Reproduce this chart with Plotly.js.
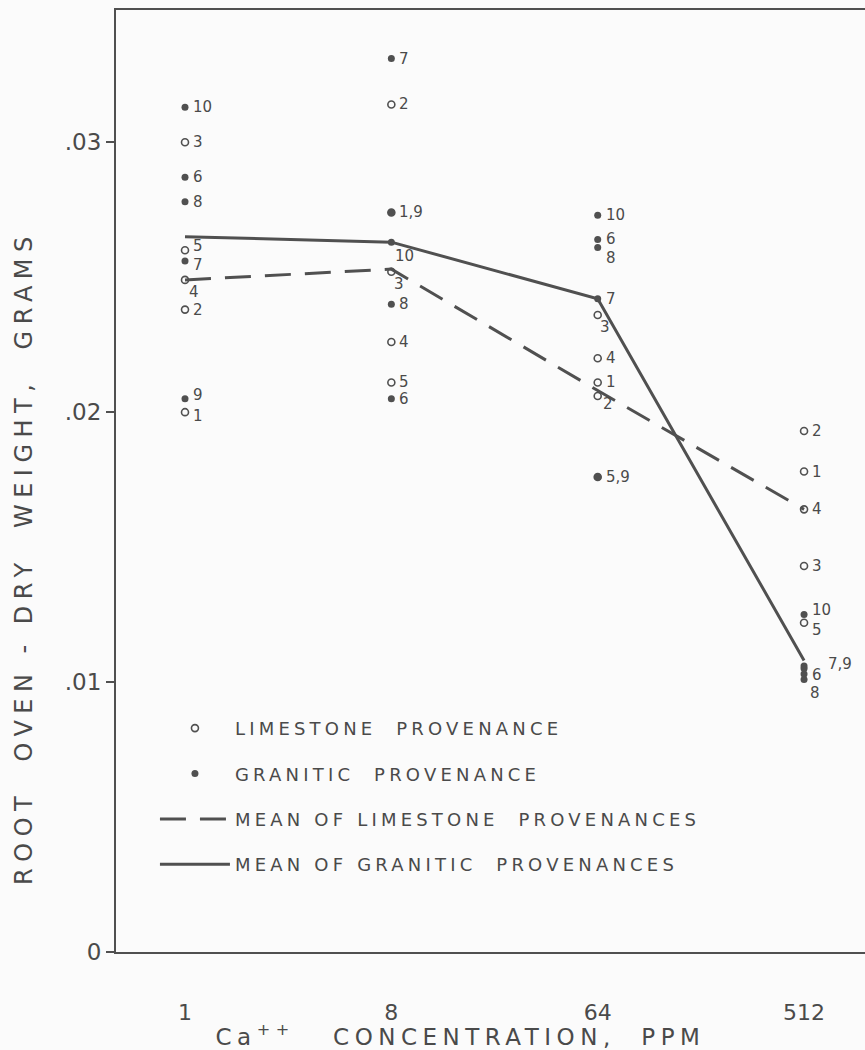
<!DOCTYPE html>
<html><head><meta charset="utf-8">
<script src="https://cdn.plot.ly/plotly-3.0.1.min.js"></script>
<style>
html,body{margin:0;padding:0;background:#fbfbfb;}
#chart{width:865px;height:1050px;}
.legendtext{letter-spacing:4.2px;}
g.annotation[data-index="0"] text{letter-spacing:5.5px;}
g.annotation[data-index="1"] text{letter-spacing:6.5px;}
</style></head><body><div id="chart"></div>
<script>
// Calcium concentrations (ppm)
const concentrations = [1, 8, 64, 512];

// Limestone provenances 1-5, root oven-dry weight (g) at each concentration
const limestone1   = [0.0200, 0.0238, 0.0300, 0.0249, 0.0260];
const limestone8   = [0.0274, 0.0314, 0.0252, 0.0226, 0.0211];
const limestone64  = [0.0211, 0.0206, 0.0236, 0.0220, 0.0176];
const limestone512 = [0.0178, 0.0193, 0.0143, 0.0164, 0.0122];

// Granitic provenances 6-10
const granitic1   = [0.0287, 0.0256, 0.0278, 0.0205, 0.0313];
const granitic8   = [0.0205, 0.0331, 0.0240, 0.0274, 0.0263];
const granitic64  = [0.0264, 0.0242, 0.0261, 0.0176, 0.0273];
const granitic512 = [0.0103, 0.0106, 0.0101, 0.0105, 0.0125];

// Means
const limestoneMean = [0.0249, 0.0253, 0.0208, 0.0164];
const graniticMean  = [0.0265, 0.0263, 0.0242, 0.0108];

// Point labels (provenance numbers; coincident points share one label)
const limestoneLabels1   = ['1', '2', '3', '4', '5'];
const limestoneLabels8   = ['1,9', '2', '3', '4', '5'];
const limestoneLabels64  = ['1', '2', '3', '4', '5,9'];
const limestoneLabels512 = ['1', '2', '3', '4', '5'];
const graniticLabels1    = ['6', '7', '8', '9', '10'];
const graniticLabels8    = ['6', '7', '8', '', '10'];
const graniticLabels64   = ['6', '7', '8', '', '10'];
const graniticLabels512  = ['6', '7,9', '8', '', '10'];

// Tick labels
const xTickLabels = ['1', '8', '64', '512'];
const yTickValues = [0, 0.01, 0.02, 0.03];
const yTickLabels = ['0', '.01', '.02', '.03'];

const INK = '#505050';
const TXT = '#4a4a4a';

const limeSets = [limestone1, limestone8, limestone64, limestone512];
const granSets = [granitic1, granitic8, granitic64, granitic512];
const limeLabelSets = [limestoneLabels1, limestoneLabels8, limestoneLabels64, limestoneLabels512];
const granLabelSets = [graniticLabels1, graniticLabels8, graniticLabels64, graniticLabels512];

function flatten(sets) {
  const xs = [], ys = [];
  sets.forEach((vals, i) => vals.forEach(v => { xs.push(concentrations[i]); ys.push(v); }));
  return {xs, ys};
}
const lime = flatten(limeSets);
const gran = flatten(granSets);

// label offsets (style only)
const labelShift = {
  '1|4': [2, -12],
  '1|5': [6, 4],
  '1|7': [6, -4],
  '1|9': [6, 4],
  '1|1': [6, -4],
  '8|3': [1, -12],
  '8|10': [2, -14],
  '64|3': [0, -12],
  '64|2': [3, -8],
  '64|8': [6, -10],
  '512|10': [6, 5],
  '512|5': [6, -7],
  '512|7,9': [22, 2],
  '512|6': [6, -1],
  '512|8': [4, -14]
};

const annotations = [
  {xref: 'paper', yref: 'paper', x: 0.46, y: -0.088, xanchor: 'center', yanchor: 'middle',
   text: 'Ca<sup>++</sup>\u00a0\u00a0 CONCENTRATION,\u00a0 PPM', showarrow: false,
   font: {family: 'DejaVu Sans', size: 23, color: TXT}},
  {xref: 'paper', yref: 'paper', x: -0.122, y: 0.419, xanchor: 'center', yanchor: 'middle', textangle: -90,
   text: 'ROOT\u00a0 OVEN - DRY\u00a0 WEIGHT,\u00a0 GRAMS', showarrow: false,
   font: {family: 'DejaVu Sans', size: 24, color: TXT}}
];

function addLabels(sets, labelSets) {
  sets.forEach((vals, i) => {
    vals.forEach((v, j) => {
      const lab = labelSets[i][j];
      if (!lab) return;
      const key = concentrations[i] + '|' + lab;
      const sh = labelShift[key] || [6, 0];
      annotations.push({
        x: Math.log10(concentrations[i]), y: v, xref: 'x', yref: 'y',
        text: lab, showarrow: false, xanchor: 'left', yanchor: 'middle',
        xshift: sh[0], yshift: sh[1],
        font: {family: 'DejaVu Sans', size: 15, color: TXT}
      });
    });
  });
}
addLabels(limeSets, limeLabelSets);
addLabels(granSets, granLabelSets);

const traces = [
  {x: lime.xs, y: lime.ys, mode: 'markers', type: 'scatter', name: 'LIMESTONE\u00a0 PROVENANCE',
   legendgroup: 'a', cliponaxis: false,
   marker: {symbol: 'circle-open', size: 7, color: INK, line: {width: 1.6, color: INK}}},
  {x: gran.xs, y: gran.ys, mode: 'markers', type: 'scatter', name: 'GRANITIC\u00a0 PROVENANCE',
   legendgroup: 'b', cliponaxis: false,
   marker: {symbol: 'circle', size: 7, color: INK}},
  {x: concentrations, y: limestoneMean, mode: 'lines', type: 'scatter', name: 'MEAN OF LIMESTONE\u00a0 PROVENANCES',
   legendgroup: 'c', line: {color: INK, width: 3, dash: '26px,14px'}},
  {x: concentrations, y: graniticMean, mode: 'lines', type: 'scatter', name: 'MEAN OF GRANITIC\u00a0 PROVENANCES',
   legendgroup: 'd', line: {color: INK, width: 3}}
];

const layout = {
  width: 865, height: 1050,
  margin: {l: 116, r: 0, t: 10, b: 98},
  paper_bgcolor: '#fbfbfb', plot_bgcolor: '#fbfbfb',
  font: {family: 'DejaVu Sans', color: TXT},
  showlegend: true,
  legend: {x: 0.052, y: 0.257, xanchor: 'left', yanchor: 'top', bgcolor: 'rgba(0,0,0,0)',
           traceorder: 'grouped', tracegroupgap: 19, itemwidth: 70,
           font: {family: 'DejaVu Sans', size: 18, color: TXT}},
  xaxis: {type: 'log', range: [-0.302, 2.976], tickvals: concentrations, ticktext: xTickLabels,
          ticks: 'outside', ticklen: 40, tickcolor: 'rgba(0,0,0,0)',
          showline: true, mirror: true, linecolor: INK, linewidth: 2,
          showgrid: false, zeroline: false, tickfont: {size: 22, color: TXT}},
  yaxis: {range: [0, 0.0349], tickvals: yTickValues, ticktext: yTickLabels,
          ticks: 'outside', ticklen: 8, tickwidth: 2, tickcolor: INK,
          showline: true, linecolor: INK, linewidth: 2,
          showgrid: false, zeroline: false, tickfont: {size: 23, color: TXT}},
  annotations: annotations
};

Plotly.newPlot('chart', traces, layout, {displayModeBar: false, staticPlot: true});
</script></body></html>
